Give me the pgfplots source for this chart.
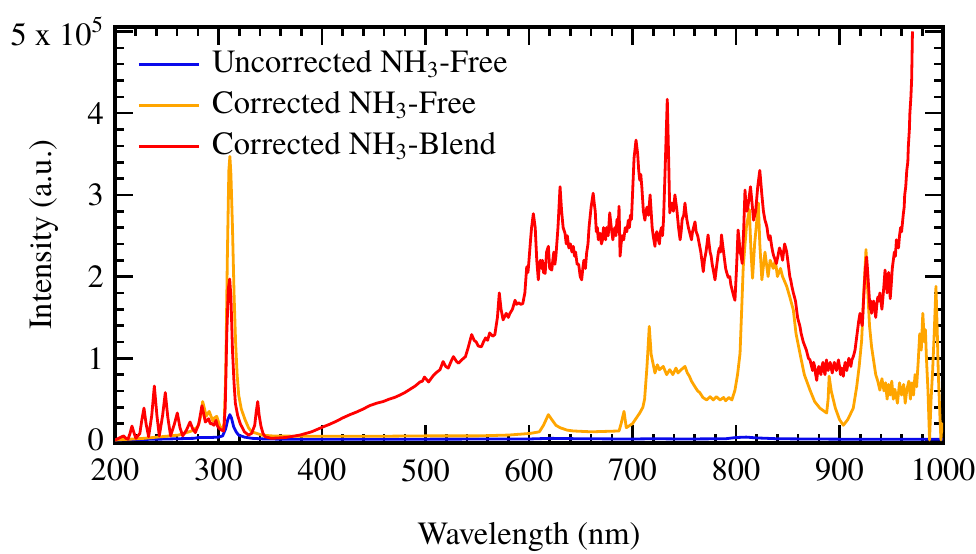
\documentclass[border=0pt]{standalone}
\usepackage{fontspec}
\setmainfont{texgyretermes}[Extension=.otf,UprightFont=*-regular,BoldFont=*-bold,ItalicFont=*-italic,BoldItalicFont=*-bolditalic]
\usepackage{pgfplots}
\pgfplotsset{compat=1.18}
\definecolor{cblue}{RGB}{10,10,235}
\definecolor{corange}{RGB}{255,165,0}
\definecolor{cred}{RGB}{255,0,0}
\newcommand\f{\rmfamily\fontsize{16.2}{20}\selectfont}
\begin{document}
\begin{tikzpicture}[font=\f]
\begin{axis}[
  scale only axis, width=414pt, height=208pt,
  xmin=200, xmax=1000, ymin=-0.037, ymax=5.055,
  xtick={200,300,...,1000}, minor x tick num=4,
  ytick={0,1,2,3,4,5}, yticklabels={0,1,2,3,4,{5 x 10\textsuperscript{5}\hspace{5pt}}}, minor y tick num=4,
  tick align=inside, major tick length=9pt, minor tick length=4.5pt,
  every tick/.style={black, line width=1.3pt},
  axis line style={line width=1.6pt},
  /pgf/number format/assume math mode=true,
  /pgf/number format/1000 sep={},
  tick label style={font=\f},
  xticklabel style={yshift=-4.5pt},
  yticklabel style={xshift=-2pt},
  label style={font=\f},
  xlabel={Wavelength (nm)}, ylabel={Intensity (a.u.)},
  xlabel style={at={(axis description cs:0.5,-0.226)}, anchor=center},
  ylabel style={at={(axis description cs:-0.0857,0.5)}, anchor=center},
  legend cell align=left,
  legend image code/.code={\draw[#1, line width=1.4pt] (0pt,0pt) -- (30pt,0pt);},
  legend style={font=\f, at={(axis description cs:0,1)}, anchor=north west, xshift=11pt, yshift=-8.5pt,
    draw=none, fill=none, inner sep=0pt, row sep=0pt, column sep=4pt,
    nodes={inner sep=2pt, text height=12pt, text depth=4.5pt}},
  every axis plot/.append style={line width=1.4pt, line join=round},
]
\addplot[cblue] coordinates {
(200,0.0) (220,0.005) (243,0.01) (260,0.015) (276,0.02) (281,0.03) (292,0.03) (300,0.035) (304,0.05) (307,0.14) (309,0.25) (311,0.31) (312.5,0.27) (314.7,0.16) (317,0.1) (319.5,0.06) (325,0.035) (332.5,0.02) (345,0.012) (360,0.01) (400,0.01) (500,0.01) (600,0.012) (620,0.02) (650,0.015) (700,0.012) (720,0.015) (750,0.012) (790,0.015) (800,0.03) (810,0.035) (820,0.025) (840,0.015) (870,0.012) (900,0.01) (950,0.01) (1000,0.01)
};
\addlegendentry{Uncorrected NH\textsubscript{3}-Free}
\addplot[corange] coordinates {
(200,0.0) (215,0.01) (228,0.02) (245,0.04) (261.5,0.06) (274,0.11) (280,0.16) (283,0.3) (284.7,0.47) (286.5,0.38) (288,0.29) (291,0.35) (292.5,0.3) (294.5,0.23) (296,0.27) (298.3,0.29) (300,0.22) (301.7,0.16) (304,0.14) (305.5,0.2) (307,0.8) (308.5,2.2) (310,3.3) (311,3.47) (312,3.25) (313.5,2.6) (315,1.8) (316.5,1.2) (318,0.8) (319.5,0.55) (322,0.38) (325.6,0.25) (329,0.15) (332,0.1) (337,0.08) (341.7,0.06) (351,0.05) (380,0.045) (450,0.045) (500,0.05) (550,0.05) (580,0.06) (601,0.08) (610,0.1) (614,0.18) (618.7,0.31) (622,0.25) (626,0.18) (630,0.15) (637,0.12) (643,0.11) (660,0.1) (687,0.11) (689,0.2) (691.8,0.35) (694,0.15) (700,0.2) (707,0.33) (710,0.4) (711.7,0.5) (714,0.9) (716.2,1.39) (718,1.05) (721.7,0.82) (724,0.92) (726,0.86) (729.7,0.9) (733,0.8) (736,0.86) (739,0.8) (742,0.88) (744,0.82) (747,0.86) (750.7,0.9) (753,0.82) (755,0.78) (757,0.72) (760.4,0.65) (763,0.6) (765,0.58) (768,0.52) (771.7,0.49) (775,0.53) (778,0.49) (781,0.53) (784.6,0.49) (788,0.52) (790,0.48) (793,0.52) (796,0.49) (799,0.61) (801.5,0.8) (803.9,1.06) (805.5,1.6) (807,2.12) (810,2.6) (812.9,2.82) (814.5,2.3) (816,1.98) (818,2.4) (819.5,2.6) (821.6,2.9) (823,2.4) (825,1.96) (828,2.3) (831,2.0) (833,2.2) (836,2.1) (838,2.2) (840,2.0) (843,2.1) (845,2.0) (849,1.88) (852,1.75) (855.4,1.59) (858,1.3) (861.8,1.06) (866,0.8) (871.5,0.61) (876,0.47) (881,0.39) (887.6,0.33) (889,0.5) (890,0.78) (892,0.6) (896,0.39) (900,0.25) (903.7,0.18) (908,0.25) (913.3,0.39) (916.6,0.65) (919,0.9) (921.4,1.22) (923.5,1.8) (925.6,2.33) (927,1.9) (929,1.4) (931,1.14) (935,0.8) (937,0.72) (939,0.61) (941,0.75) (943,0.6) (944.5,0.7) (946,0.5) (947.5,0.68) (949,0.55) (950.5,0.72) (952,0.5) (953.5,0.62) (956,0.45) (958,0.7) (960,0.55) (962,0.68) (963.5,0.45) (965,0.61) (967,0.72) (968.5,0.5) (970,0.7) (971.5,0.55) (973,0.8) (974.5,0.65) (976,0.95) (977.5,1.3) (979,1.1) (980.5,1.55) (982,1.2) (983,1.35) (984,1.0) (985.5,0.6) (987,0.0) (988.5,0.5) (990,0.85) (991.5,1.3) (993.2,1.88) (994.5,1.3) (995.5,0.8) (997,0.3) (998,0.0) (999,0.2) (1000,0.1)
};
\addlegendentry{Corrected NH\textsubscript{3}-Free}
\addplot[cred] coordinates {
(200,0.0) (202,0.01) (205,0.03) (208.4,0.05) (210.5,0.02) (212.6,0.01) (214.5,0.08) (216.4,0.17) (218.5,0.08) (220.3,0.02) (224,0.08) (226,0.25) (228,0.39) (230,0.2) (232.5,0.04) (235.5,0.3) (238,0.66) (240.5,0.3) (242.8,0.05) (246,0.3) (248.6,0.58) (251,0.28) (253.7,0.05) (257.5,0.2) (260.2,0.33) (262.8,0.15) (265.4,0.05) (269,0.12) (272.5,0.22) (275,0.14) (277.6,0.09) (281,0.2) (284,0.42) (286,0.3) (287.3,0.22) (290.5,0.26) (292,0.2) (293.7,0.2) (295.5,0.18) (297.6,0.24) (299,0.17) (300.8,0.14) (303,0.12) (305,0.11) (306.5,0.4) (308,1.3) (309.5,1.85) (310.8,1.97) (312,1.75) (313.5,1.1) (315,0.7) (316.3,0.45) (318.5,0.3) (321,0.2) (325,0.1) (329,0.06) (332,0.08) (335,0.18) (336.5,0.35) (337.9,0.47) (339.3,0.3) (341,0.17) (343,0.08) (345,0.04) (351,0.02) (365,0.03) (378.7,0.06) (390,0.1) (401,0.16) (407,0.19) (414,0.23) (420,0.27) (427,0.31) (433,0.34) (440,0.38) (446,0.42) (452.8,0.45) (459,0.47) (465,0.5) (470,0.52) (475.4,0.55) (480,0.58) (485,0.62) (490,0.66) (494.7,0.71) (497,0.72) (499,0.77) (501,0.74) (503,0.71) (507,0.78) (510,0.82) (514,0.86) (517,0.96) (519.5,0.9) (522,0.88) (525,0.97) (527,1.02) (530,0.96) (532,0.94) (535,0.98) (538.6,1.02) (541,1.12) (544.6,1.29) (547,1.22) (549,1.2) (551,1.15) (554,1.14) (556,1.2) (558,1.25) (560,1.22) (562,1.31) (565,1.27) (567,1.29) (569.5,1.5) (571.3,1.8) (573,1.6) (575,1.47) (578,1.55) (580,1.5) (581.6,1.55) (584,1.6) (586.5,1.71) (588,1.66) (590,1.68) (592,1.66) (594,1.67) (596,1.8) (597.8,2.12) (599,2.05) (600,2.2) (601.5,2.45) (602.5,2.6) (604.2,2.77) (606,2.6) (607.5,2.2) (609,1.96) (610,2.15) (611,2.2) (612,2.1) (613,2.2) (614,2.05) (615.6,2.04) (617,2.3) (618.7,2.37) (620,2.1) (622,2.08) (623,2.2) (624,2.3) (625,2.15) (626,2.25) (628,2.6) (630,3.10) (631.5,2.8) (633,2.6) (634.8,2.53) (636,2.4) (637,2.5) (638.5,2.35) (640,2.4) (641.5,2.3) (642.8,2.37) (644,2.25) (645,2.3) (646.5,2.15) (648,2.15) (649.5,2.0) (650.9,1.96) (652,2.1) (653,2.2) (654.5,2.1) (655.7,2.29) (657,2.4) (658,2.6) (660,2.85) (662,3.02) (663,2.9) (664,2.8) (665,2.55) (666,2.6) (667,2.45) (668.6,2.53) (670,2.4) (671,2.45) (672,2.6) (673,2.55) (674,2.45) (675,2.6) (676.5,2.5) (678,2.78) (679.5,2.6) (681,2.45) (682,2.55) (683,2.6) (684,2.5) (685,2.7) (686,2.55) (687,2.86) (688,2.25) (689,2.4) (690,2.5) (691.5,2.45) (693,2.6) (694.5,2.55) (696,2.69) (697,2.6) (698,2.75) (699,2.7) (700,3.0) (701.5,3.45) (703.4,3.67) (705,3.5) (706,3.3) (707,3.18) (708,3.25) (709,3.1) (710.5,2.8) (712,2.69) (713,2.8) (714,2.85) (715.5,2.75) (717,3.0) (718,2.8) (719,2.6) (720,2.5) (721.7,2.37) (722.5,2.5) (723.5,2.55) (725,2.45) (726,2.4) (727,2.55) (728,2.6) (729,2.5) (730,2.7) (731.5,3.3) (733.6,4.17) (735,3.4) (736,2.78) (737,2.85) (738,2.9) (739.5,2.8) (741,3.0) (742,2.9) (743,2.8) (744.5,2.6) (746,2.45) (747,2.55) (748,2.7) (749.5,2.75) (750.7,2.9) (751.5,2.8) (752.5,2.7) (754,2.6) (755,2.55) (756,2.5) (757,2.45) (758,2.55) (759,2.6) (760.4,2.67) (761.5,2.55) (763,2.5) (764.5,2.4) (766,2.3) (767,2.2) (768.4,2.06) (769.5,2.2) (771,2.3) (772,2.4) (773,2.51) (774,2.4) (775,2.3) (776,2.25) (777,2.15) (778.5,2.05) (779.7,1.96) (781,2.1) (782,2.2) (783,2.3) (784,2.35) (785,2.3) (786,2.51) (787,2.4) (788,2.3) (789,2.2) (790,2.1) (791,2.05) (792.5,1.99) (794,2.0) (795,1.9) (796,1.85) (797,1.8) (798,1.75) (799,1.71) (800.5,2.1) (802,2.57) (803,2.45) (804,2.3) (805,2.25) (806,2.16) (807.5,2.6) (808.7,3.06) (809.5,2.9) (810.5,2.8) (811.5,2.85) (812,2.9) (813,3.0) (814,3.10) (815.5,2.9) (817,2.69) (818,2.75) (819,2.8) (820,2.95) (821,3.1) (822,3.2) (823,3.30) (824,3.15) (825,3.0) (826.5,2.8) (828,2.69) (829,2.65) (830,2.6) (831,2.5) (832,2.45) (833,2.5) (834.5,2.37) (835.5,2.3) (836.5,2.25) (838,2.2) (839,2.16) (840.5,2.25) (842,2.35) (843.5,2.3) (845,2.2) (846,2.3) (847,2.4) (848,2.35) (849,2.30) (850,2.2) (851,2.1) (852,2.0) (853,1.95) (854,1.88) (855.4,1.80) (856.5,1.75) (857.5,1.7) (858.5,1.6) (859.5,1.5) (860.5,1.45) (861.8,1.39) (863,1.3) (864,1.25) (865,1.2) (866.5,1.15) (868,1.1) (869,1.05) (870,1.0) (871.5,0.98) (873,0.9) (874,0.85) (875,0.95) (876,0.9) (877,0.8) (878,0.73) (879,0.85) (880,0.9) (881,0.85) (882,0.8) (883,0.9) (884,0.95) (885,0.85) (886,0.8) (887.4,0.98) (888,0.9) (889,0.85) (890,0.92) (891,0.95) (892,0.88) (893,0.82) (894,0.9) (895,0.95) (896,0.9) (897,0.85) (898,0.92) (899,0.98) (900,0.9) (901,0.8) (902,0.88) (903.7,0.78) (904.5,0.88) (905.5,0.95) (906,0.9) (907,0.85) (908,0.92) (909,1.0) (910,0.95) (911,0.9) (912,0.98) (913.3,1.02) (914,1.05) (915,1.1) (916,1.2) (917,1.3) (918.5,1.45) (919.8,1.55) (921,1.45) (922,1.4) (923,1.65) (924,1.9) (925,2.1) (926.2,2.24) (927,2.1) (928,1.9) (929.5,1.6) (930.5,1.7) (931,1.55) (932,1.65) (933,1.7) (934,1.6) (935,1.5) (936,1.65) (937,1.75) (938,1.7) (939,1.8) (940,1.7) (941,1.6) (942,1.75) (943,1.9) (944,2.08) (945,1.95) (946,1.8) (947.5,2.05) (948.5,1.9) (949,1.73) (950,1.9) (951,2.1) (952,2.2) (953,2.3) (954,2.25) (955,2.45) (956,2.4) (957,2.35) (958,2.5) (959,2.6) (960,2.55) (961.7,2.77) (962.5,2.85) (963,3.0) (964,3.1) (965,3.3) (966,3.4) (966.5,3.59) (967.5,3.8) (968,4.0) (969,4.2) (969.7,4.41) (970.5,5.0)
};
\addlegendentry{Corrected NH\textsubscript{3}-Blend}
\end{axis}
\pgfresetboundingbox
\path ([shift={(-57.5pt,-55.5pt)}]current axis.south west) rectangle ([shift={(16.5pt,13.5pt)}]current axis.north east);
\end{tikzpicture}
\end{document}
